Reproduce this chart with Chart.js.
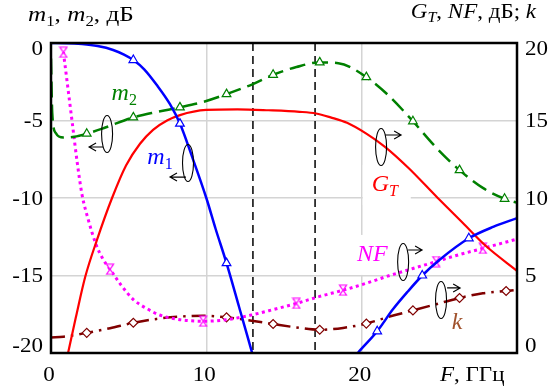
<!DOCTYPE html>
<html>
<head>
<meta charset="utf-8">
<script src="https://cdn.jsdelivr.net/npm/chart.js@4.4.0/dist/chart.umd.min.js"></script>
<style>
html, body { margin: 0; background: #fff; }
#wrap { width: 554px; height: 390px; }
</style>
</head>
<body>
<div id="wrap"><canvas id="graph"></canvas></div>
<script>
// frequency F, GHz; m1, m2 on the left axis (dB), GT, NF, k on the right axis
const F_M1 = [0, 1, 2, 3, 4, 4.7, 5.3, 6, 6.8, 7.66, 8.3, 9.07, 10, 10.6, 11.3, 12.1, 12.95, 13.4, 16, 19.3, 19.75, 21.0, 22, 23, 23.9, 25, 26.9, 28.5, 30];
const M1 = [0, -0.01, -0.07, -0.2, -0.45, -0.75, -1.1, -1.7, -2.7, -3.95, -5.2, -7.3, -10, -12, -14.2, -17, -20, -21.7, null, -20.55, -20, -18.6, -17.2, -16.0, -15.0, -14.0, -12.6, -11.85, -11.3];
const M1_MARK = [5.3, 8.3, 11.3, 21.0, 23.9, 26.9];

const F_M2 = [0, 0.08, 0.3, 0.8, 1.5, 2.3, 3.5, 5.3, 6.8, 8.3, 9.8, 11.3, 13, 14.3, 15.8, 17.3, 18.5, 20.3, 21.8, 23.3, 24.8, 26.3, 27.8, 29.2, 30];
const M2 = [-1, -4.5, -5.8, -6.1, -6.05, -5.85, -5.45, -4.8, -4.45, -4.15, -3.8, -3.3, -2.65, -2.05, -1.55, -1.25, -1.3, -2.2, -3.45, -5.05, -6.75, -8.2, -9.35, -10.05, -10.3];
const M2_MARK = [2.3, 5.3, 8.3, 11.3, 14.3, 17.3, 20.3, 23.3, 26.3, 29.2];

const F_GT = [1.0, 1.6, 2.2, 2.96, 3.93, 4.83, 5.73, 6.57, 7.47, 8.3, 10, 12, 14, 16, 17.06, 18, 19.06, 20.3, 21.5, 23, 24.9, 26.5, 28, 30];
const GT = [-0.45, 2.3, 4.9, 7.3, 10, 12.1, 13.5, 14.4, 15.0, 15.35, 15.68, 15.72, 15.66, 15.56, 15.45, 15.2, 14.85, 14.15, 13.3, 11.95, 10.0, 8.4, 6.9, 5.3];

const F_NF = [0.8, 1.35, 1.7, 2.0, 2.4, 2.9, 3.35, 3.8, 4.5, 5.3, 6.2, 7.0, 8.3, 9.8, 11.3, 12.9, 14.3, 15.8, 17.3, 18.8, 20.3, 21.8, 23.3, 24.8, 26.3, 27.8, 30];
const NF = [19.4, 15.0, 12.2, 10.2, 8.6, 7.0, 6.05, 5.4, 4.4, 3.45, 2.85, 2.45, 2.15, 2.05, 2.15, 2.45, 2.8, 3.2, 3.65, 4.05, 4.5, 5.0, 5.45, 5.9, 6.35, 6.75, 7.35];
const NF_MARK = [0.8, 3.8, 9.8, 15.8, 18.8, 24.8, 27.8];

const F_K = [0, 0.8, 2.3, 3.8, 5.3, 6.8, 8.3, 9.8, 11.3, 12.8, 14.3, 15.8, 17.3, 18.8, 20.3, 21.8, 23.3, 24.8, 26.3, 27.8, 29.3, 30];
const K = [1.0, 1.05, 1.3, 1.6, 1.95, 2.2, 2.35, 2.4, 2.3, 2.1, 1.87, 1.65, 1.5, 1.62, 1.9, 2.35, 2.75, 3.15, 3.55, 3.85, 4.0, 4.07];
const K_MARK = [2.3, 5.3, 11.3, 14.3, 17.3, 20.3, 23.3, 26.3, 29.3];

const X_TICKS = [0, 10, 20];
const Y_TICKS = [0, -5, -10, -15, -20];
const Y2_TICKS = [20, 15, 10, 5, 0];
const BAND_F = [13, 17];   // dashed vertical lines

const SERIF = '"Liberation Serif", "Times New Roman", serif';
const STRETCH = 1.15;      // the source lettering is a little wide

function pts(fs, vs) {
    return fs.map((f, i) => ({x: f, y: vs[i]}));
}

function hourglass(color) {
    const c = document.createElement('canvas');
    c.width = 10; c.height = 12;
    const g = c.getContext('2d');
    g.strokeStyle = color; g.fillStyle = '#fff'; g.lineWidth = 1.2;
    g.beginPath();
    g.moveTo(1.5, 1); g.lineTo(8.5, 1); g.lineTo(1.5, 11); g.lineTo(8.5, 11); g.closePath();
    g.fill(); g.stroke();
    return c;
}

function markRadius(marks, r) {
    return ctx => (ctx.raw && marks.includes(ctx.raw.x)) ? r : 0;
}

// text pieces: [text, style]  style: 'i' italic, 's' subscript, 'si' italic subscript
function rich(ctx, x, y, parts, size, color, align, sx = 1) {
    const font = p => (p[1].includes('i') ? 'italic ' : '') +
        (p[1].includes('s') ? Math.round(size * 0.68) : size) + 'px ' + SERIF;
    let w = 0;
    for (const p of parts) { ctx.font = font(p); w += ctx.measureText(p[0]).width; }
    ctx.save();
    ctx.translate(x, y);
    ctx.scale(sx, 1);
    let cx = align === 'right' ? -w : align === 'center' ? -w / 2 : 0;
    ctx.fillStyle = color;
    ctx.textAlign = 'left';
    ctx.textBaseline = 'alphabetic';
    for (const p of parts) {
        ctx.font = font(p);
        ctx.fillText(p[0], cx, p[1].includes('s') ? size * 0.22 : 0);
        cx += ctx.measureText(p[0]).width;
    }
    ctx.restore();
}

// loops around curves with arrows showing which axis they belong to (left-axis units)
const loops = [
    {f: 3.61, v: -5.87, av: -6.71, from: 3.35, to: 2.45},
    {f: 8.82, v: -7.74, av: -8.65, from: 8.69, to: 7.66},
    {f: 21.25, v: -6.71, av: -5.94, from: 21.51, to: 22.54},
    {f: 22.67, v: -14.13, av: -13.35, from: 22.99, to: 23.89},
    {f: 25.11, v: -16.58, av: -15.8, from: 25.5, to: 26.34}
];

const curveLabels = [
    {f: 3.9, v: -3.68, color: '#008000', parts: [['m', 'i'], ['2', 's']]},
    {f: 6.2, v: -7.8, color: '#0000ff', parts: [['m', 'i'], ['1', 's']]},
    {f: 20.65, v: -9.55, color: '#ff0000', bg: true, parts: [['G', 'i'], ['T', 'si']]},
    {f: 19.7, v: -14.06, color: '#ff00ff', bg: true, parts: [['NF', 'i']]},
    {f: 25.8, v: -18.45, color: '#a0522d', parts: [['k', 'i']]}
];

const decor = {
    id: 'decor',
    beforeDatasetsDraw(chart) {
        const {ctx, chartArea: a, scales: {x, y}} = chart;
        ctx.save();
        ctx.strokeStyle = '#000';
        ctx.lineWidth = 1.5;
        ctx.setLineDash([8, 5]);
        BAND_F.forEach(f => {
            const px = x.getPixelForValue(f);
            ctx.beginPath(); ctx.moveTo(px, a.top); ctx.lineTo(px, a.bottom); ctx.stroke();
        });
        ctx.setLineDash([]);
        ctx.fillStyle = '#fff';
        curveLabels.filter(l => l.bg).forEach(l => {
            const px = x.getPixelForValue(l.f), py = y.getPixelForValue(l.v);
            ctx.fillRect(px - 9, py - 26, 48, 40);
        });
        ctx.restore();
    },
    afterDatasetsDraw(chart) {
        const {ctx, chartArea: a, scales: {x, y, y2}} = chart;
        ctx.save();
        // loops and arrows
        ctx.strokeStyle = '#000';
        ctx.lineWidth = 1.1;
        loops.forEach(l => {
            const cx = x.getPixelForValue(l.f), cy = y.getPixelForValue(l.v);
            ctx.beginPath();
            ctx.ellipse(cx, cy, 5.5, 18.5, 0, 0, Math.PI * 2);
            ctx.stroke();
            const ay = y.getPixelForValue(l.av);
            const x0 = x.getPixelForValue(l.from), x1 = x.getPixelForValue(l.to);
            const d = Math.sign(x1 - x0);
            ctx.beginPath();
            ctx.moveTo(x0, ay); ctx.lineTo(x1, ay);
            ctx.moveTo(x1 - d * 7, ay - 4); ctx.lineTo(x1, ay); ctx.lineTo(x1 - d * 7, ay + 4);
            ctx.stroke();
        });
        curveLabels.forEach(l => {
            rich(ctx, x.getPixelForValue(l.f), y.getPixelForValue(l.v), l.parts, 24, l.color, 'left');
        });
        // frame
        ctx.strokeStyle = '#000';
        ctx.lineWidth = 2.5;
        ctx.strokeRect(a.left, a.top, a.right - a.left, a.bottom - a.top);

        // tick labels (end labels are kept inside the frame height, as in the source)
        const yMid = py => Math.min(Math.max(py, a.top + 5), a.bottom - 8) + 6.8;
        Y_TICKS.forEach(v => rich(ctx, a.left - 8, yMid(y.getPixelForValue(v)), [[String(v), '']], 20, '#000', 'right', STRETCH));
        Y2_TICKS.forEach(v => rich(ctx, a.right + 8, yMid(y2.getPixelForValue(v)), [[String(v), '']], 20, '#000', 'left', STRETCH));
        X_TICKS.forEach(v => rich(ctx, x.getPixelForValue(v) - 2, a.bottom + 28, [[String(v), '']], 20, '#000', 'center', STRETCH));

        // axis titles
        rich(ctx, 28, 21, [['m', 'i'], ['1', 's'], [', ', ''], ['m', 'i'], ['2', 's'], [', дБ', '']], 21, '#000', 'left', 1.2);
        rich(ctx, 536, 18, [['G', 'i'], ['T', 'si'], [', ', ''], ['NF', 'i'], [', дБ; ', ''], ['k', 'i']], 20, '#000', 'right', STRETCH);
        rich(ctx, 440, a.bottom + 28, [['F', 'i'], [', ГГц', '']], 20, '#000', 'left', STRETCH);
        ctx.restore();
    }
};

new Chart(document.getElementById('graph'), {
    type: 'line',
    data: {
        datasets: [{
            label: 'm1', yAxisID: 'y',
            data: pts(F_M1, M1),
            borderColor: '#0000ff', borderWidth: 2.5,
            pointStyle: 'triangle', pointRadius: markRadius(M1_MARK, 5),
            pointBorderColor: '#0000ff', pointBackgroundColor: '#fff', pointBorderWidth: 1.2
        }, {
            label: 'm2', yAxisID: 'y',
            data: pts(F_M2, M2),
            borderColor: '#008000', borderWidth: 2.5, borderDash: [16, 7],
            pointStyle: 'triangle', pointRadius: markRadius(M2_MARK, 5),
            pointBorderColor: '#008000', pointBackgroundColor: '#fff', pointBorderWidth: 1.2
        }, {
            label: 'GT', yAxisID: 'y2',
            data: pts(F_GT, GT),
            borderColor: '#ff0000', borderWidth: 2.2,
            pointRadius: 0
        }, {
            label: 'NF', yAxisID: 'y2',
            data: pts(F_NF, NF),
            borderColor: '#ff00ff', borderWidth: 3, borderDash: [3, 3.5],
            pointStyle: hourglass('#ff00ff'), pointRadius: markRadius(NF_MARK, 5)
        }, {
            label: 'k', yAxisID: 'y2',
            data: pts(F_K, K),
            borderColor: '#800000', borderWidth: 2.5, borderDash: [14, 6, 2.5, 6],
            pointStyle: 'rectRot', pointRadius: markRadius(K_MARK, 4.5),
            pointBorderColor: '#800000', pointBackgroundColor: '#fff', pointBorderWidth: 1.2
        }].map(d => Object.assign({
            fill: false, spanGaps: false, cubicInterpolationMode: 'monotone', clip: 0
        }, d))
    },
    options: {
        animation: false,
        responsive: true,
        maintainAspectRatio: false,
        layout: {padding: {top: 43, left: 0, right: 0, bottom: 0}},
        plugins: {legend: {display: false}, tooltip: {enabled: false}},
        scales: {
            x: {
                type: 'linear', min: 0, max: 30,
                afterBuildTicks: s => { s.ticks = [0, 10, 20, 30].map(v => ({value: v})); },
                ticks: {display: false},
                grid: {color: '#d4d4d4', lineWidth: 1.5, drawTicks: false},
                border: {display: false},
                afterFit: s => { s.height = 37; }
            },
            y: {
                position: 'left', min: -20, max: 0,
                ticks: {stepSize: 5, display: false},
                grid: {color: '#d4d4d4', lineWidth: 1.5, drawTicks: false},
                border: {display: false},
                afterFit: s => { s.width = 51; }
            },
            y2: {
                position: 'right', min: 0, max: 20,
                ticks: {stepSize: 5, display: false},
                grid: {display: false, drawTicks: false},
                border: {display: false},
                afterFit: s => { s.width = 37; }
            }
        }
    },
    plugins: [decor]
});
</script>
</body>
</html>
